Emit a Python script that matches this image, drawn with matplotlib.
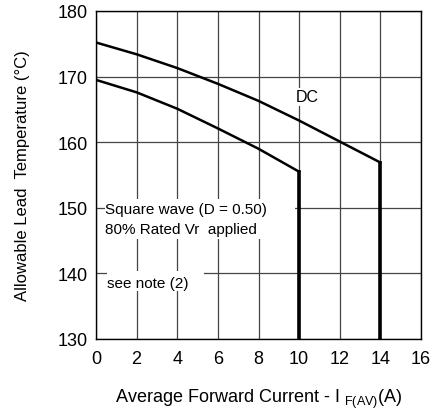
import matplotlib.pyplot as plt
from matplotlib.patches import Rectangle

plt.rcParams['font.family'] = ['Liberation Sans', 'DejaVu Sans']
plt.rcParams['mathtext.fontset'] = 'custom'
plt.rcParams['mathtext.rm'] = 'Liberation Sans'
plt.rcParams['mathtext.it'] = 'Liberation Sans'

# DC curve
dc_x = [0, 2, 4, 6, 8, 10, 12, 14, 14]
dc_y = [175.2, 173.4, 171.3, 168.9, 166.3, 163.3, 160.1, 156.9, 130]
# square wave curve
sq_x = [0, 2, 4, 6, 8, 10, 10]
sq_y = [169.5, 167.6, 165.1, 162.1, 159.0, 155.5, 130]

xticks = [0, 2, 4, 6, 8, 10, 12, 14, 16]
yticks = [130, 140, 150, 160, 170, 180]

fig = plt.figure(figsize=(4.33, 4.10), dpi=100)
ax = fig.add_axes([96 / 433, 1 - 340 / 410, 325 / 433, 328 / 410])

ax.set_xlim(0, 16)
ax.set_ylim(130, 180)
ax.set_xticks(xticks)
ax.set_yticks(yticks)
ax.grid(True, color='#444444', lw=0.9, zorder=1)
ax.tick_params(length=0, labelsize=13)
ax.tick_params(axis='y', pad=6)
ax.tick_params(axis='x', pad=8)
for s in ax.spines.values():
    s.set_color('black')
    s.set_linewidth(1)
    s.set_zorder(5)

# white boxes behind the notes
ax.add_patch(Rectangle((0.45, 145.2), 9.35, 6.1, facecolor='white', edgecolor='none', zorder=2))
ax.add_patch(Rectangle((0.53, 137.3), 4.8, 3.0, facecolor='white', edgecolor='none', zorder=2))

ax.plot(dc_x[:-1], dc_y[:-1], color='black', lw=1.8, zorder=3)
ax.plot(dc_x[-2:], dc_y[-2:], color='black', lw=2.6, zorder=3)
ax.plot(sq_x[:-1], sq_y[:-1], color='black', lw=1.8, zorder=3)
ax.plot(sq_x[-2:], sq_y[-2:], color='black', lw=2.6, zorder=3)

ax.text(10.4, 166.9, 'DC', fontsize=11.5, ha='center', va='center', zorder=4,
        bbox=dict(facecolor='white', edgecolor='none', pad=1))
ax.text(0.45, 149.8, 'Square wave (D = 0.50)', fontsize=11, va='center', zorder=4)
ax.text(0.45, 146.8, '80% Rated Vr  applied', fontsize=11, va='center', zorder=4)
ax.text(0.55, 138.6, 'see note (2)', fontsize=11, va='center', zorder=4)

ax.set_xlabel(r'Average Forward Current - I $_{\mathrm{F(AV)}}$(A)', fontsize=13, labelpad=14)
ax.set_ylabel('Allowable Lead  Temperature (°C)', fontsize=12, labelpad=20)

fig.savefig('out.png', dpi=100)
